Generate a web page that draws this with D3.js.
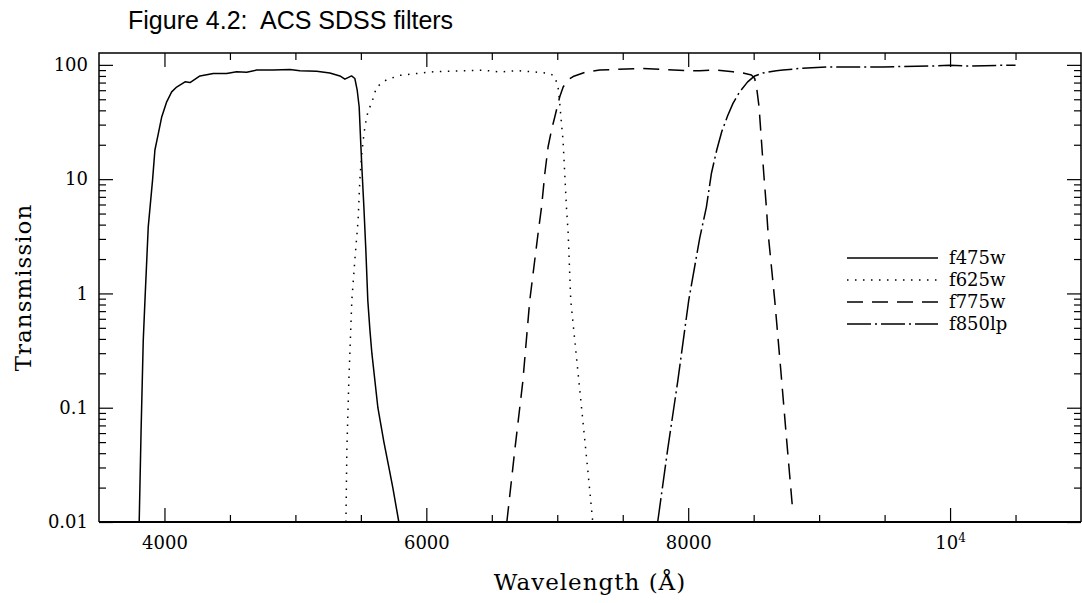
<!DOCTYPE html>
<html>
<head>
<meta charset="utf-8">
<script src="https://cdn.jsdelivr.net/npm/d3@7"></script>
<style>
  body { margin: 0; background: #fff; }
  text { fill: #000; }
</style>
</head>
<body>
<svg id="chart" width="1082" height="603"></svg>
<script>
// filter curves (wavelength in Å, transmission in %)
const f475wWave  = [3807,3821,3838,3851,3876,3909,3927,3953,3979,4017,4055,4093,4157,4195,4271,4373,4475,4551,4628,4704,4831,4958,5034,5162,5263,5340,5378,5429,5454,5472,5487,5498,5510,5523,5538,5553,5569,5584,5630,5676,5714,5744,5790];
const f475wTrans = [0.01,0.06,0.39,0.87,3.8,9.8,18,25,35,47.5,58,64,71,70,80,84,84,87,86,90,90,91,89,88,85,80,75,80,76,60,43,22,11.2,5.7,2.4,0.87,0.48,0.3,0.1,0.05,0.03,0.02,0.01];

const f625wWave  = [5386,5393,5408,5431,5454,5479,5492,5505,5518,5531,5556,5582,5620,5696,5798,5925,6052,6180,6307,6434,6561,6689,6815,6943,6981,7006,7019,7032,7044,7057,7070,7083,7103,7149,7195,7233,7271];
const f625wTrans = [0.01,0.043,0.17,0.87,1.96,4.4,9.8,15.7,22,28.8,40,46,64,74,81,84,87,88,89,90,86.5,89,87,84,79,64,46,30.8,22,11.2,5.7,3.4,0.87,0.26,0.078,0.0285,0.01];

const f775wWave  = [6615,6676,6737,6790,6854,6880,6905,6930,6956,6981,7019,7045,7083,7121,7223,7324,7426,7630,7834,8012,8088,8216,8342,8419,8483,8508,8525,8541,8559,8577,8597,8610,8661,8707,8752,8798];
const f775wTrans = [0.01,0.043,0.17,0.87,3.4,5.7,11.2,19.2,26.9,35,52.6,64,74,79,87,90,91,93,91,89,89,90,87,85,81.5,76,60,43,22,11.2,5.7,3.4,0.87,0.214,0.052,0.0127];

const f850lpWave  = [7767,7843,7920,8004,8088,8139,8177,8218,8256,8302,8342,8393,8454,8508,8571,8673,8724,8851,9055,9233,9487,9869,9996,10124,10378,10500];
const f850lpTrans = [0.01,0.043,0.17,0.87,3.05,5.7,11.2,18,26,36,46,58,71,80,85,89,90,93,96,96,96,97.7,99,97.7,99,99];

const filterNames = ["f475w", "f625w", "f775w", "f850lp"];
const filterWaves = [f475wWave, f625wWave, f775wWave, f850lpWave];
const filterTrans = [f475wTrans, f625wTrans, f775wTrans, f850lpTrans];
const dashStyles  = [null, "1.5,6.5", "16,9", "24,4,2,4"];

const xMajorTicks = [4000, 6000, 8000, 10000];
const xMajorLabels = ["4000", "6000", "8000", "10^4"];
const yMajorTicks = [0.01, 0.1, 1, 10, 100];
const yMajorLabels = ["0.01", "0.1", "1", "10", "100"];

const svg = d3.select("#chart");
const mLeft = 99, mRight = 1081, mTop = 53, mBottom = 522;

const x = d3.scaleLinear().domain([3500, 11000]).range([mLeft, mRight]);
const y = d3.scaleLog().domain([0.01, 127]).range([mBottom, mTop]);

const xMinor = d3.range(4000, 11000, 500).filter(v => v % 2000 !== 0);
const yMinor = [];
[0.01, 0.1, 1, 10].forEach(d => { for (let k = 2; k <= 9; k++) yMinor.push(d * k); });

const serif = "'DejaVu Serif', serif";

// title
svg.append("text")
  .attr("x", 128).attr("y", 29)
  .style("font-family", "'Liberation Sans', Arial, sans-serif")
  .style("font-size", "25px")
  .style("white-space", "pre")
  .text("Figure 4.2:  ACS SDSS filters");

// axes: ticks point inward, frame drawn separately
function styleAxis(g) {
  g.select(".domain").remove();
  g.selectAll(".tick line").attr("stroke", "#000").attr("stroke-width", 1.2);
  g.selectAll("text").style("font-family", serif).style("font-size", "18px");
}

svg.append("g").attr("transform", `translate(0,${mBottom})`)
  .call(d3.axisBottom(x).tickValues(xMajorTicks).tickSize(-14).tickPadding(14)
    .tickFormat((d, i) => xMajorLabels[i]))
  .call(styleAxis)
  .selectAll("text").each(function (d, i) {
    const lab = xMajorLabels[i];
    if (lab.includes("^")) {
      const [b, e] = lab.split("^");
      const t = d3.select(this).text("");
      t.append("tspan").text(b);
      t.append("tspan").attr("dy", -7).style("font-size", "12px").text(e);
    }
  });
svg.append("g").attr("transform", `translate(0,${mBottom})`)
  .call(d3.axisBottom(x).tickValues(xMinor).tickSize(-7).tickFormat(""))
  .call(styleAxis);
svg.append("g").attr("transform", `translate(0,${mTop})`)
  .call(d3.axisTop(x).tickValues(xMajorTicks).tickSize(-14).tickFormat(""))
  .call(styleAxis);
svg.append("g").attr("transform", `translate(0,${mTop})`)
  .call(d3.axisTop(x).tickValues(xMinor).tickSize(-7).tickFormat(""))
  .call(styleAxis);

svg.append("g").attr("transform", `translate(${mLeft},0)`)
  .call(d3.axisLeft(y).tickValues(yMajorTicks).tickSize(-14).tickPadding(11)
    .tickFormat((d, i) => yMajorLabels[i]))
  .call(styleAxis);
svg.append("g").attr("transform", `translate(${mLeft},0)`)
  .call(d3.axisLeft(y).tickValues(yMinor).tickSize(-7).tickFormat(""))
  .call(styleAxis);
svg.append("g").attr("transform", `translate(${mRight},0)`)
  .call(d3.axisRight(y).tickValues(yMajorTicks).tickSize(-14).tickFormat(""))
  .call(styleAxis);
svg.append("g").attr("transform", `translate(${mRight},0)`)
  .call(d3.axisRight(y).tickValues(yMinor).tickSize(-7).tickFormat(""))
  .call(styleAxis);

// frame
svg.append("path")
  .attr("d", `M${mLeft},${mBottom}V${mTop}H${mRight}V${mBottom}`)
  .attr("fill", "none").attr("stroke", "#000").attr("stroke-width", 1.5);
svg.append("line")
  .attr("x1", mLeft).attr("x2", mRight).attr("y1", mBottom).attr("y2", mBottom)
  .attr("stroke", "#000").attr("stroke-width", 2.2);

// axis titles
svg.append("text")
  .attr("x", (mLeft + mRight) / 2).attr("y", 590)
  .attr("text-anchor", "middle")
  .style("font-family", serif).style("font-size", "23px").style("letter-spacing", "1px")
  .text("Wavelength (Å)");
svg.append("text")
  .attr("transform", `translate(31,${(mTop + mBottom) / 2}) rotate(-90)`)
  .attr("text-anchor", "middle")
  .style("font-family", serif).style("font-size", "23px").style("letter-spacing", "1px")
  .text("Transmission");

// curves
const line = d3.line().x(d => x(d[0])).y(d => y(d[1]));
filterNames.forEach((name, i) => {
  const pts = d3.zip(filterWaves[i], filterTrans[i]);
  svg.append("path")
    .datum(pts)
    .attr("d", line)
    .attr("fill", "none")
    .attr("stroke", "#000")
    .attr("stroke-width", 1.5)
    .attr("stroke-linejoin", "round")
    .attr("stroke-dasharray", dashStyles[i]);
});

// legend
const legend = svg.append("g");
filterNames.forEach((name, i) => {
  const ly = 258 + i * 22;
  legend.append("line")
    .attr("x1", 847).attr("x2", 938).attr("y1", ly).attr("y2", ly)
    .attr("stroke", "#000").attr("stroke-width", 1.5)
    .attr("stroke-dasharray", dashStyles[i]);
  legend.append("text")
    .attr("x", 949).attr("y", ly + 6)
    .style("font-family", serif).style("font-size", "18px")
    .text(name);
});
</script>
</body>
</html>
